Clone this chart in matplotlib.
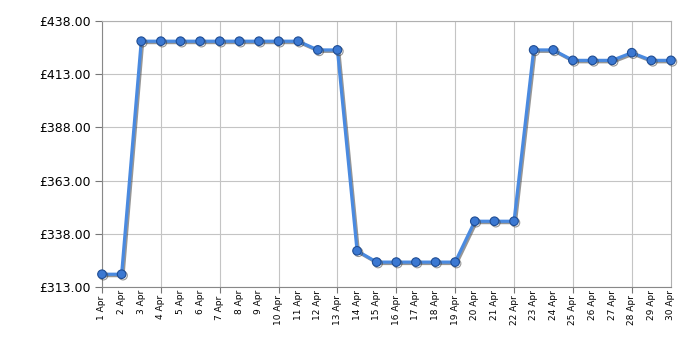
import matplotlib
matplotlib.use("Agg")
import matplotlib.pyplot as plt
import matplotlib.patheffects as pe

# Dados
dias = list(range(1, 31))
rotulos = [f"{d} Apr" for d in dias]
precos = [319.0, 319.0, 428.5, 428.5, 428.5, 428.5, 428.5, 428.5, 428.5, 428.5,
          428.5, 424.4, 424.4, 330.0, 324.7, 324.7, 324.7, 324.7, 324.7, 343.9,
          343.9, 343.9, 424.4, 424.4, 419.5, 419.5, 419.5, 423.1, 419.5, 419.5]
y_ticks = [313, 338, 363, 388, 413, 438]

fig = plt.figure(figsize=(7, 3.5), dpi=100)
ax = fig.add_axes([102 / 700, 1 - 287 / 350, (671 - 102) / 700, (287 - 21) / 350])

# Linha com sombra
ax.plot(dias, precos, color="#4a8ae0", linewidth=2.3, marker="o", markersize=6.2,
        markerfacecolor="#3b78d2", markeredgecolor="#1f4d94", markeredgewidth=0.8,
        zorder=5, clip_on=False,
        path_effects=[pe.SimpleLineShadow(offset=(1.0, -1.0), shadow_color="#404040", alpha=0.55),
                      pe.Normal()])

ax.set_xlim(1, 30)
ax.set_ylim(313, 438)

# Eixo X: maiores a cada 3 dias (com grelha), restantes só rótulo
maiores = [d for d in dias if (d - 1) % 3 == 0 and d < 30]
menores = [d for d in dias if d not in maiores]
ax.set_xticks(maiores)
ax.set_xticklabels([rotulos[d - 1] for d in maiores])
ax.set_xticks(menores, minor=True)
ax.set_xticklabels([rotulos[d - 1] for d in menores], minor=True)
ax.tick_params(axis="x", which="both", labelrotation=90, labelsize=6.5, pad=2)
ax.tick_params(axis="x", which="major", length=4, color="#777777")
ax.tick_params(axis="x", which="minor", length=0)

ax.set_yticks(y_ticks)
ax.set_yticklabels([f"£{v:.2f}" for v in y_ticks])
ax.tick_params(axis="y", labelsize=9, length=5, color="#777777", pad=3)

ax.grid(True, which="major", color="#c4c4c4", linewidth=0.8)
ax.set_axisbelow(True)

for lado in ["top", "right"]:
    ax.spines[lado].set_color("#b0b0b0")
for lado in ["left", "bottom"]:
    ax.spines[lado].set_color("#888888")

fig.savefig("out.png", dpi=100)
